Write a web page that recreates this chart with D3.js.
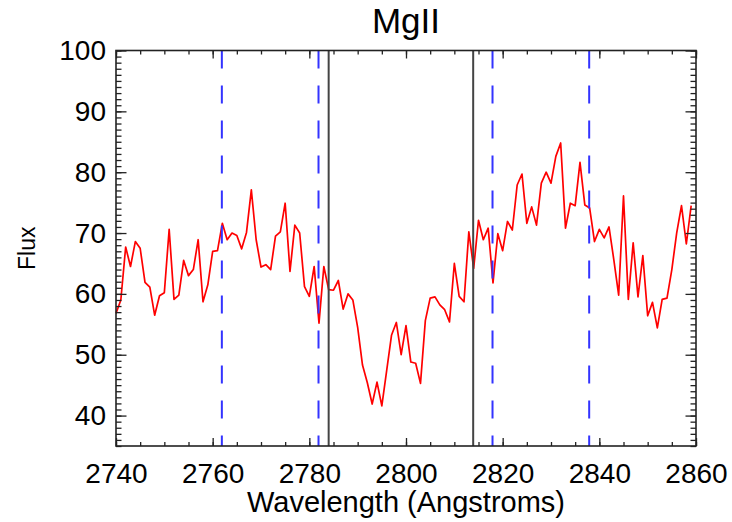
<!DOCTYPE html>
<html><head><meta charset="utf-8">
<script src="https://cdn.jsdelivr.net/npm/d3@7"></script>
<style>body{margin:0;background:#fff}svg{display:block}</style>
</head><body>
<svg id="c" width="732" height="522"></svg>
<script>
const title = "MgII";
const xLabel = "Wavelength (Angstroms)";
const yLabel = "Flux";
const wavelengthStart = 2740;
const flux = [56.8,59.0,67.7,64.5,68.6,67.5,61.9,61.1,56.5,59.7,
  60.2,70.6,59.1,59.8,65.5,63.0,64.0,68.9,58.7,61.5,
  67.0,67.1,71.6,68.9,70.0,69.6,67.4,70.1,77.1,68.9,
  64.4,64.8,64.0,69.5,70.2,74.9,63.7,71.3,70.0,61.2,
  59.6,64.5,55.2,64.5,60.7,60.6,62.2,57.5,60.0,59.0,
  54.5,48.3,45.4,41.9,45.5,41.6,47.4,53.2,55.3,50.0,
  54.8,48.8,48.6,45.3,55.6,59.3,59.5,58.2,57.4,55.4,
  65.0,59.6,58.7,70.2,64.2,72.1,68.9,70.8,61.8,69.9,
  67.1,71.9,70.5,77.9,79.7,71.6,74.3,71.3,78.2,80.0,
  78.2,82.6,84.8,70.8,74.9,74.5,81.6,74.6,74.1,68.6,
  70.6,69.2,71.0,65.6,59.8,76.1,59.1,68.4,59.5,66.3,
  56.4,58.6,54.4,59.1,59.3,64.0,70.0,74.5,68.2,74.5];
const wavelengths = flux.map((d, i) => wavelengthStart + i);
const blueLines = [2761.9, 2781.9, 2817.9, 2837.9];
const blackLines = [2784.0, 2813.9];
const xDomain = [2740, 2860];
const yDomain = [35, 100];
const xTicks = [2740, 2760, 2780, 2800, 2820, 2840, 2860];
const yTicks = [40, 50, 60, 70, 80, 90, 100];

const svg = d3.select("#c");
const L = 116, R = 696, T = 50.5, B = 446;
const x = d3.scaleLinear().domain(xDomain).range([L, R]);
const y = d3.scaleLinear().domain(yDomain).range([B, T]);
const font = "Helvetica, 'Liberation Sans', Arial, sans-serif";

// data line
svg.append("path")
  .datum(flux.map((f, i) => [wavelengths[i], f]))
  .attr("fill", "none").attr("stroke", "#ff0000").attr("stroke-width", 1.7)
  .attr("stroke-linejoin", "round")
  .attr("d", d3.line().x(d => x(d[0])).y(d => y(d[1])));

// blue dashed lines
svg.selectAll(".bl").data(blueLines).join("line")
  .attr("x1", d => x(d)).attr("x2", d => x(d))
  .attr("y1", T).attr("y2", B)
  .attr("stroke", "#3333ff").attr("stroke-width", 2)
  .attr("stroke-dasharray", "18,17");

// black solid lines
svg.selectAll(".kl").data(blackLines).join("line")
  .attr("x1", d => x(d)).attr("x2", d => x(d))
  .attr("y1", T).attr("y2", B)
  .attr("stroke", "#444").attr("stroke-width", 2);

const axisColor = "#222";
function styleAxis(g) {
  g.select(".domain").remove();
  g.selectAll("line").attr("stroke", axisColor).attr("stroke-width", 1.3);
  g.selectAll("text").attr("font-family", font).attr("font-size", 28).attr("fill", "#000");
}

const xMinor = d3.range(2740, 2861, 5);
const yMinor = d3.range(35, 101, 1);

// bottom
svg.append("g").attr("transform", `translate(0,${B})`)
  .call(d3.axisBottom(x).tickValues(xMinor).tickSize(-4).tickFormat("")).call(styleAxis);
svg.append("g").attr("transform", `translate(0,${B})`)
  .call(d3.axisBottom(x).tickValues(xTicks).tickSize(-8).tickPadding(17).tickFormat(d3.format("d"))).call(styleAxis);
// top
svg.append("g").attr("transform", `translate(0,${T})`)
  .call(d3.axisTop(x).tickValues(xMinor).tickSize(-4).tickFormat("")).call(styleAxis);
svg.append("g").attr("transform", `translate(0,${T})`)
  .call(d3.axisTop(x).tickValues(xTicks).tickSize(-8).tickFormat("")).call(styleAxis);
// left
svg.append("g").attr("transform", `translate(${L},0)`)
  .call(d3.axisLeft(y).tickValues(yMinor).tickSize(-5.5).tickFormat("")).call(styleAxis);
svg.append("g").attr("transform", `translate(${L},0)`)
  .call(d3.axisLeft(y).tickValues(yTicks).tickSize(-10.5).tickPadding(10).tickFormat(d3.format("d"))).call(styleAxis);
// right
svg.append("g").attr("transform", `translate(${R},0)`)
  .call(d3.axisRight(y).tickValues(yMinor).tickSize(-5.5).tickFormat("")).call(styleAxis);
svg.append("g").attr("transform", `translate(${R},0)`)
  .call(d3.axisRight(y).tickValues(yTicks).tickSize(-10.5).tickFormat("")).call(styleAxis);

// frame
svg.append("rect").attr("x", L).attr("y", T).attr("width", R - L).attr("height", B - T)
  .attr("fill", "none").attr("stroke", axisColor).attr("stroke-width", 1.6);

// labels
svg.append("text").attr("x", (L + R) / 2).attr("y", 33).attr("text-anchor", "middle")
  .attr("font-family", font).attr("font-size", 35).text(title);
svg.append("text").attr("x", (L + R) / 2).attr("y", 512).attr("text-anchor", "middle")
  .attr("font-family", font).attr("font-size", 29).text(xLabel);
svg.append("text").attr("transform", `translate(35,${(T + B) / 2}) rotate(-90)`)
  .attr("text-anchor", "middle").attr("font-family", font).attr("font-size", 23).text(yLabel);
</script>
</body></html>
